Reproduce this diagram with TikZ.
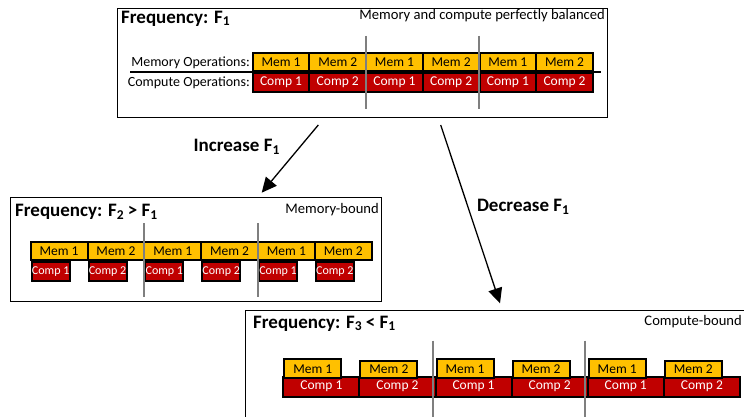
\documentclass[tikz,border=0pt]{standalone}
\usepackage{fontspec}
\setmainfont{Carlito}
\usetikzlibrary{arrows.meta}
\definecolor{memy}{HTML}{FFC000}
\definecolor{compr}{HTML}{C00000}
\definecolor{gline}{HTML}{7F7F7F}
\newcommand{\fsz}[1]{\fontsize{#1}{#1}\selectfont}
\newcommand{\sbsc}[1]{\raisebox{-0.3ex}{\fontsize{13.5}{13.5}\selectfont #1}}
\begin{document}
\begin{tikzpicture}[x=1pt,y=-1pt,
  panel/.style={draw=black,line width=0.9pt,inner sep=0pt,fill=white},
  memcell/.style={fill=memy,draw=black,line width=2pt,inner sep=0pt,font=\fsz{13.5},text=black},
  compcell/.style={fill=compr,draw=black,line width=2pt,inner sep=0pt,font=\fsz{13.5},text=white},
  grayline/.style={draw=gline,line width=2pt},
  title/.style={anchor=west,font=\bfseries\fsz{19},inner sep=0pt},
  note/.style={anchor=east,font=\fsz{14.6},inner sep=0pt},
  oplabel/.style={anchor=east,font=\fsz{14},inner sep=0pt},
  arrowlabel/.style={font=\bfseries\fsz{19},inner sep=0pt},
  bigarrow/.style={line width=1.3pt,-{Triangle[length=15pt,width=14pt]}}
]
\clip (0,0) rectangle (744,417);
\fill[white] (0,0) rectangle (744,417);

% ---------- Panel 1 ----------
\node[panel,minimum width=490pt,minimum height=109pt] (p1) at (362,62.5) {};
\node[title] (t1) at (121,18.5) {Frequency: F\sbsc{1}};
\node[note] (n1) at (605,16) {Memory and compute perfectly balanced};
\node[oplabel] (l1) at (250,63) {Memory Operations:};
\node[oplabel] (l2) at (250,82.5) {Compute Operations:};
\coordinate (h1s) at (130,72);
\coordinate (h1e) at (601,72);
\draw[line width=2pt] (h1s) -- (h1e);
\foreach \i/\t in {0/1,1/2,2/1,3/2,4/1,5/2}{
  \node[memcell,minimum width=56.7pt,minimum height=18pt] (pm\i) at ({252.7+56.7*\i+28.35},62) {Mem \t};
  \node[compcell,minimum width=56.7pt,minimum height=19pt] (pc\i) at ({252.7+56.7*\i+28.35},82.5) {Comp \t};
}
\coordinate (g1a) at (365.7,36);
\coordinate (g1b) at (365.7,109);
\coordinate (g2a) at (479,36);
\coordinate (g2b) at (479,109);
\draw[grayline] (g1a) -- (g1b);
\draw[grayline] (g2a) -- (g2b);

% ---------- Panel 2 ----------
\node[panel,minimum width=371pt,minimum height=104.7pt] (p2) at (196.2,249.35) {};
\node[title] (t2) at (15,212) {Frequency: F\sbsc{2} > F\sbsc{1}};
\node[note] (n2) at (379,210) {Memory-bound};
\foreach \i/\t in {0/1,1/2,2/1,3/2,4/1,5/2}{
  \node[memcell,minimum width=56.83pt,minimum height=18.3pt] (qm\i) at ({30.7+56.83*\i+28.4},251) {Mem \t};
  \node[compcell,minimum width=38pt,minimum height=19pt,anchor=north west,font=\fsz{12}] (qc\i) at ({30.7+56.83*\i},260.7) {Comp \t};
}
\coordinate (g3a) at (144.3,223);
\coordinate (g3b) at (144.3,297);
\coordinate (g4a) at (258.3,223);
\coordinate (g4b) at (258.3,297);
\draw[grayline] (g3a) -- (g3b);
\draw[grayline] (g4a) -- (g4b);

% ---------- Panel 3 ----------
\node[panel,minimum width=520pt,minimum height=130pt] (p3) at (505,375) {};
\node[title] (t3) at (253,323.5) {Frequency: F\sbsc{3} < F\sbsc{1}};
\node[note] (n3) at (742,322) {Compute-bound};
\foreach \i/\t/\y in {0/1/358.3,1/2/360,2/1/358.3,3/2/360,4/1/358.3,5/2/360}{
  \node[compcell,minimum width=76.1pt,minimum height=20pt] (rc\i) at ({283.3+76.1*\i+38.05},386.7) {Comp \t};
  \node[memcell,minimum width=57pt,anchor=north west,minimum height={377.3-\y}] (rm\i) at ({283.3+76.1*\i},\y) {Mem \t};
}
\coordinate (g5a) at (433.3,340.7);
\coordinate (g5b) at (433.3,417);
\coordinate (g6a) at (585,340.7);
\coordinate (g6b) at (585,417);
\draw[grayline] (g5a) -- (g5b);
\draw[grayline] (g6a) -- (g6b);

% ---------- Arrows ----------
\coordinate (a1s) at (318.3,125);
\coordinate (a1e) at (261.7,192.7);
\coordinate (a2s) at (440.7,125);
\coordinate (a2e) at (500,303.3);
\draw[bigarrow] (a1s) -- (a1e);
\draw[bigarrow] (a2s) -- (a2e);
\node[arrowlabel] (inc) at (236.5,147) {Increase F\sbsc{1}};
\node[arrowlabel] (dec) at (523,207) {Decrease F\sbsc{1}};
\end{tikzpicture}
\end{document}
